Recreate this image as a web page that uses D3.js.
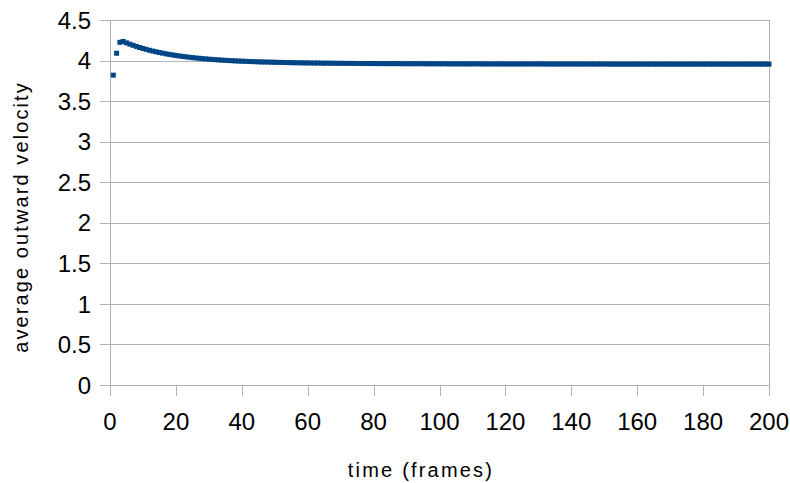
<!DOCTYPE html>
<html><head><meta charset="utf-8">
<script src="https://cdn.jsdelivr.net/npm/d3@7"></script>
<style>
html,body{margin:0;padding:0;background:#fff;}
svg{display:block;}
text{font-family:"Liberation Sans",Arial,sans-serif;fill:#000;}
</style></head>
<body>
<svg id="chart" width="790" height="483"></svg>
<script>
// frames 1..200
const frames = d3.range(1, 201);
const velocity = [
3.820,4.090,4.225,4.235,4.218,4.203,4.188,4.174,4.161,4.149,
4.138,4.127,4.117,4.108,4.099,4.091,4.083,4.076,4.069,4.063,
4.057,4.051,4.046,4.041,4.036,4.032,4.028,4.024,4.020,4.017,
4.014,4.011,4.008,4.005,4.003,4.000,3.998,3.996,3.994,3.992,
3.991,3.989,3.987,3.986,3.984,3.983,3.982,3.981,3.980,3.979,
3.978,3.977,3.976,3.975,3.974,3.973,3.973,3.972,3.971,3.971,
3.970,3.970,3.969,3.969,3.968,3.968,3.967,3.967,3.966,3.966,
3.966,3.965,3.965,3.965,3.964,3.964,3.964,3.963,3.963,3.963,
3.963,3.962,3.962,3.962,3.962,3.962,3.962,3.961,3.961,3.961,
3.961,3.961,3.961,3.961,3.961,3.960,3.960,3.960,3.960,3.960,
3.960,3.960,3.959,3.959,3.959,3.959,3.959,3.959,3.959,3.959,
3.959,3.959,3.958,3.958,3.958,3.958,3.958,3.958,3.958,3.958,
3.958,3.958,3.958,3.958,3.958,3.958,3.958,3.958,3.958,3.958,
3.958,3.958,3.957,3.957,3.957,3.957,3.957,3.957,3.957,3.957,
3.957,3.957,3.957,3.957,3.957,3.957,3.957,3.957,3.957,3.957,
3.956,3.956,3.956,3.956,3.956,3.956,3.956,3.956,3.956,3.956,
3.956,3.956,3.956,3.956,3.956,3.956,3.956,3.956,3.956,3.956,
3.956,3.956,3.956,3.956,3.956,3.956,3.956,3.956,3.956,3.956,
3.956,3.956,3.956,3.956,3.956,3.956,3.956,3.956,3.956,3.956,
3.956,3.956,3.956,3.956,3.956,3.956,3.956,3.956,3.956,3.956
];
const xTicks = [0,20,40,60,80,100,120,140,160,180,200];
const yTicks = [0,0.5,1,1.5,2,2.5,3,3.5,4,4.5];
const xTitle = "time (frames)";
const yTitle = "average outward velocity";

const svg = d3.select("#chart");
const pL = 110, pR = 769, pT = 20, pB = 385;
const x = d3.scaleLinear().domain([0,200]).range([pL,pR]);
const y = d3.scaleLinear().domain([0,4.5]).range([pB,pT]);
const grid = "#b3b3b3";

// horizontal gridlines (with outward ticks)
svg.append("g").selectAll("line").data(yTicks).join("line")
  .attr("x1", pL-10).attr("x2", pR)
  .attr("y1", d=>Math.round(y(d))+0.5).attr("y2", d=>Math.round(y(d))+0.5)
  .attr("stroke", grid).attr("stroke-width",1);
// left axis line and right border
svg.append("line").attr("x1",pL+0.5).attr("x2",pL+0.5).attr("y1",pT).attr("y2",pB+11)
  .attr("stroke",grid);
svg.append("line").attr("x1",pR+0.5).attr("x2",pR+0.5).attr("y1",pT).attr("y2",pB+11)
  .attr("stroke",grid);
// x tick marks
svg.append("g").selectAll("line").data(xTicks).join("line")
  .attr("x1", d=>Math.round(x(d))+0.5).attr("x2", d=>Math.round(x(d))+0.5)
  .attr("y1", pB).attr("y2", pB+11)
  .attr("stroke", grid);

// tick labels
svg.append("g").selectAll("text").data(yTicks).join("text")
  .attr("x", pL-19).attr("y", d=>y(d)).attr("dy","0.36em")
  .attr("text-anchor","end").style("font-size","24px")
  .text(d=>String(d));
svg.append("g").selectAll("text").data(xTicks).join("text")
  .attr("x", d=>x(d)).attr("y", 430)
  .attr("text-anchor","middle").style("font-size","24px")
  .text(d=>String(d));

// axis titles
svg.append("text").attr("x",421).attr("y",477).attr("text-anchor","middle")
  .style("font-size","20px").style("letter-spacing","2.2px").text(xTitle);
svg.append("text").attr("transform","translate(28,217) rotate(-90)").attr("text-anchor","middle")
  .style("font-size","20px").style("letter-spacing","2.1px").text(yTitle);

// markers
const s = 5;
svg.append("g").selectAll("rect").data(frames).join("rect")
  .attr("x", d=>x(d)-s/2).attr("y", (d,i)=>y(velocity[i])-s/2)
  .attr("width", s).attr("height", s).attr("fill", "#004586");
</script>
</body></html>
